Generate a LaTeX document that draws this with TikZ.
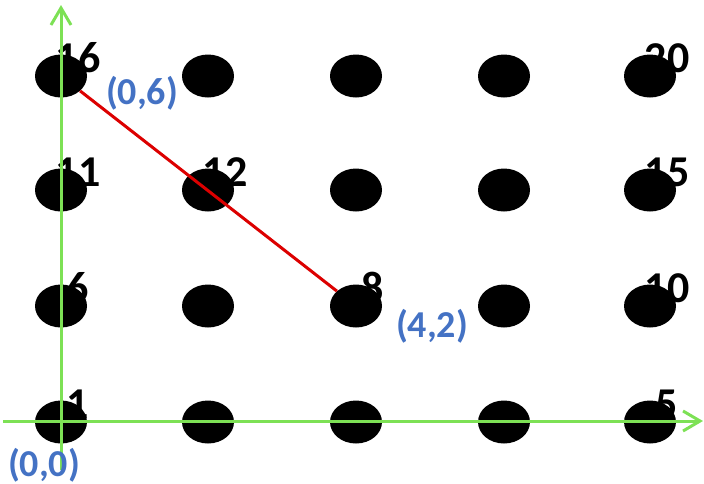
\documentclass[tikz,border=0pt]{standalone}
\usepackage{fontspec}
\setmainfont{Carlito}
\usetikzlibrary{shapes.geometric,arrows.meta}
\definecolor{axisgreen}{RGB}{125,225,85}
\definecolor{lblblue}{RGB}{68,114,196}
\definecolor{linered}{RGB}{220,0,0}
\tikzset{
  dot/.style={ellipse,fill=black,draw=none,inner sep=0pt,minimum width=52pt,minimum height=43pt},
  num/.style={anchor=base,font=\bfseries\fontsize{44}{44}\selectfont,inner sep=0pt},
  coord/.style={font=\bfseries\fontsize{38}{38}\selectfont,text=lblblue,inner sep=0pt},
  axis/.style={draw=axisgreen,line width=3pt,-{Straight Barb[length=17pt,width=20pt]}},
  redline/.style={draw=linered,line width=3pt}
}
\begin{document}
\begin{tikzpicture}[x=1pt,y=-1pt]
\useasboundingbox (0,0) rectangle (704,483);
% numbers (behind dots)
\foreach \n/\cx/\cy in {16/61/76,20/650/76,11/61/190,12/208/190,15/650/190,6/61/306,8/356/306,10/650/306,1/61/422,5/650/422}
  \node[num] (t\n) at (\cx+17,\cy-4) {\n};
% dots
\foreach \r/\cy in {0/422,1/306,2/190,3/76}
  \foreach \c/\cx in {1/61,2/208,3/356,4/504,5/650}
  {\pgfmathtruncatemacro{\k}{\r*5+\c}
   \node[dot] (d\k) at (\cx,\cy) {};}
% red line
\draw[redline] (d16) -- (d8);
% axes
\coordinate (yb) at (61,470);
\coordinate (yt) at (61,5);
\coordinate (xl) at (3,421);
\coordinate (xr) at (703,421);
\draw[axis] (yb) -- (yt);
\draw[axis] (xl) -- (xr);
% labels
\node[coord] (l06) at (142,93) {(0,6)};
\node[coord] (l42) at (432,326) {(4,2)};
\node[coord] (l00) at (44,465) {(0,0)};
\end{tikzpicture}
\end{document}
